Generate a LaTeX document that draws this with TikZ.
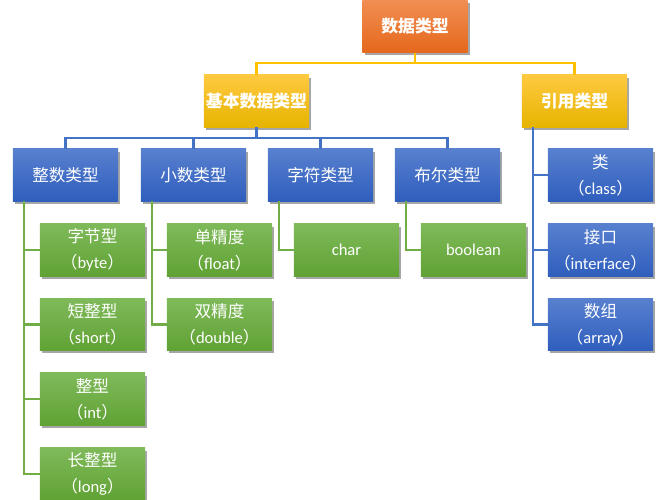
\documentclass[tikz,border=0pt]{standalone}
\usepackage{fontspec}
\setmainfont{Carlito}
\newfontfamily\cjk{Noto Sans CJK SC}
\usetikzlibrary{calc,shadows}

\definecolor{orangeT}{RGB}{241,142,82}
\definecolor{orangeB}{RGB}{229,104,28}
\definecolor{yellowT}{RGB}{255,201,64}
\definecolor{yellowB}{RGB}{230,180,0}
\definecolor{blueT}{RGB}{88,128,207}
\definecolor{blueB}{RGB}{47,94,189}
\definecolor{greenT}{RGB}{127,186,90}
\definecolor{greenB}{RGB}{96,162,52}
\definecolor{yline}{RGB}{255,192,0}
\definecolor{bline}{RGB}{68,114,196}
\definecolor{gline}{RGB}{112,173,71}

% fullwidth brackets round a latin word
\newcommand{\en}[1]{{\cjk （}#1{\cjk ）}}

\begin{document}
\begin{tikzpicture}[
  x=0.025cm, y=-0.025cm,
  box/.style={minimum width=2.625cm, minimum height=1.3cm, inner sep=0pt,
    align=center, text=white, font=\fontsize{11.8}{18.5}\selectfont\cjk,
    drop shadow={shadow xshift=1.5pt, shadow yshift=-2pt, fill=black, opacity=0.35}},
  obox/.style={box, top color=orangeT, bottom color=orangeB, font=\fontsize{12}{18}\selectfont\cjk\bfseries},
  ybox/.style={box, top color=yellowT, bottom color=yellowB, font=\fontsize{12}{18}\selectfont\cjk\bfseries},
  bbox/.style={box, top color=blueT, bottom color=blueB},
  gbox/.style={box, top color=greenT, bottom color=greenB},
  ylink/.style={draw=yline, line width=1.5pt},
  blink/.style={draw=bline, line width=1.5pt},
  glink/.style={draw=gline, line width=1.5pt}
]
  \useasboundingbox (0,0) rectangle (667,500);

  % ebenen
  \node[obox] (root) at (415,26.5) {数据类型};
  \node[ybox] (basic) at (256.5,101) {基本数据类型};
  \node[ybox] (ref)   at (574.5,101) {引用类型};

  \node[bbox] (int)  at (65.5,175)  {整数类型};
  \node[bbox] (dec)  at (193.5,175) {小数类型};
  \node[bbox] (chr)  at (320.5,175) {字符类型};
  \node[bbox] (bool) at (447.5,175) {布尔类型};

  \node[bbox] (cls)   at (600.5,175)   {类\\{\normalfont\en{class}}};
  \node[bbox] (iface) at (600.5,250)   {接口\\{\normalfont\en{interface}}};
  \node[bbox] (arr)   at (600.5,324.5) {数组\\{\normalfont\en{array}}};

  \node[gbox] (byte)  at (92.5,250)   {字节型\\{\normalfont\en{byte}}};
  \node[gbox] (short) at (92.5,324.5) {短整型\\{\normalfont\en{short}}};
  \node[gbox] (intt)  at (92.5,399)   {整型\\{\normalfont\en{int}}};
  \node[gbox] (long)  at (92.5,474)   {长整型\\{\normalfont\en{long}}};

  \node[gbox] (float)  at (219.5,250)   {单精度\\{\normalfont\en{float}}};
  \node[gbox] (double) at (219.5,324.5) {双精度\\{\normalfont\en{double}}};

  \node[gbox, font=\fontsize{11.8}{18.5}\selectfont] (char)    at (346.5,250) {char};
  \node[gbox, font=\fontsize{11.8}{18.5}\selectfont] (boolean) at (473.5,250) {boolean};

  % verbindungen
  \draw[ylink] (root.south) -- ++(0,10) -| (basic.north);
  \draw[ylink] (root.south) -- ++(0,10) -| (ref.north);
  \foreach \n in {int,dec,chr,bool}
    \draw[blink] (basic.south) -- ++(0,11) -| (\n.north);
  \foreach \n in {cls,iface,arr}
    \draw[blink] ($(ref.south west)+(11,0)$) |- (\n.west);
  \foreach \n in {byte,short,intt,long}
    \draw[glink] ($(int.south west)+(11,0)$) |- (\n.west);
  \foreach \n in {float,double}
    \draw[glink] ($(dec.south west)+(11,0)$) |- (\n.west);
  \draw[glink] ($(chr.south west)+(11,0)$) |- (char.west);
  \draw[glink] ($(bool.south west)+(11,0)$) |- (boolean.west);
\end{tikzpicture}
\end{document}
